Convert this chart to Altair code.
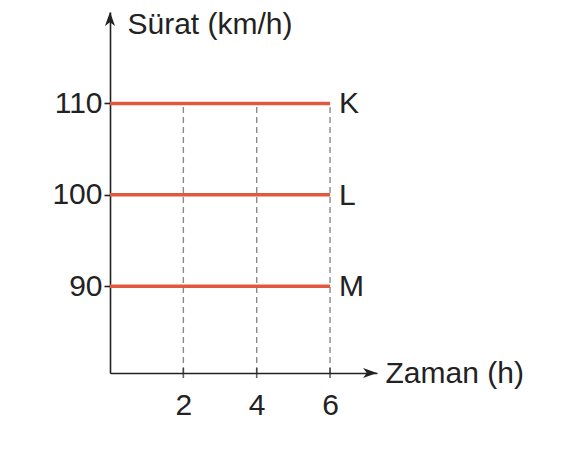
import altair as alt
import pandas as pd

# data
names = ["K", "L", "M"]
speeds = [110, 100, 90]
t_start = 0
t_end = 6
tick_times = [2, 4, 6]
speed_ticks = [90, 100, 110]
x_title = "Zaman (h)"
y_title = "Sürat (km/h)"

Y_MIN, Y_MAX = 80.5, 120
X_MIN, X_MAX = 0, 7.28

W, H = 267, 361
FONT = "Liberation Sans"
FS = 30
RED = "#e2583f"
INK = "#222222"

lines_df = pd.DataFrame(
    [{"name": n, "time": t, "speed": s} for n, s in zip(names, speeds) for t in (t_start, t_end)]
)
labels_df = pd.DataFrame({"name": names, "speed": speeds, "time": [t_end] * len(names)})
grid_df = pd.DataFrame({
    "time": tick_times,
    "bottom": [Y_MIN] * len(tick_times),
    "top": [max(speeds)] * len(tick_times),
})
arrow_df = pd.DataFrame({"time": [X_MAX, X_MIN], "speed": [Y_MIN, Y_MAX], "dir": ["right", "up"]})

xscale = alt.Scale(domain=[X_MIN, X_MAX], nice=False, zero=False)
yscale = alt.Scale(domain=[Y_MIN, Y_MAX], nice=False, zero=False)

xaxis = alt.Axis(
    values=tick_times, grid=False, domainColor=INK, domainWidth=1.6,
    ticks=False, labelFontSize=FS, labelFont=FONT,
    labelColor=INK, labelPadding=17, title=x_title, titleFont=FONT, titleFontSize=FS,
    titleFontWeight="normal", titleColor=INK, titleAngle=0, titleAlign="left",
    titleBaseline="middle", titleX=W + 8, titleY=0,
)
yaxis = alt.Axis(
    values=speed_ticks, grid=False, domainColor=INK, domainWidth=1.6,
    tickColor=INK, tickWidth=1.6, tickSize=6, labelFontSize=FS, labelFont=FONT,
    labelColor=INK, labelPadding=2, title=y_title, titleFont=FONT, titleFontSize=FS,
    titleFontWeight="normal", titleColor=INK, titleAngle=0, titleAlign="left",
    titleBaseline="middle", titleX=17, titleY=12,
)

X = alt.X("time:Q", scale=xscale, axis=xaxis)
Y = alt.Y("speed:Q", scale=yscale, axis=yaxis)

grid = alt.Chart(grid_df).mark_rule(color="#8a8a8a", strokeWidth=1.4, strokeDash=[6, 4]).encode(
    x=X,
    y=alt.Y("bottom:Q", scale=yscale, axis=yaxis),
    y2=alt.Y2("top:Q"),
)

xticks = alt.Chart(grid_df).mark_tick(color=INK, thickness=1.6, size=10, orient="vertical").encode(
    x=X,
    y=alt.Y("bottom:Q", scale=yscale, axis=yaxis),
)

lines = alt.Chart(lines_df).mark_line(color=RED, strokeWidth=3.5).encode(
    x=X, y=Y, detail="name:N"
)

labels = alt.Chart(labels_df).mark_text(
    align="left", baseline="middle", dx=9, dy=1, font=FONT, fontSize=FS, color=INK
).encode(x=X, y=Y, text="name:N")

arrow_right = alt.Chart(arrow_df).transform_filter(alt.datum.dir == "right").mark_point(
    shape="M 0 0 L -2 -0.72 L -1.45 0 L -2 0.72 Z", filled=True, color=INK, opacity=1, size=196
).encode(x=X, y=Y)

arrow_up = alt.Chart(arrow_df).transform_filter(alt.datum.dir == "up").mark_point(
    shape="M 0 0 L -0.72 2 L 0 1.45 L 0.72 2 Z", filled=True, color=INK, opacity=1, size=196
).encode(x=X, y=Y)

chart = alt.layer(grid, xticks, lines, labels, arrow_right, arrow_up).properties(
    width=W, height=H,
    background="white",
    autosize=alt.AutoSizeParams(type="none"),
    padding={"left": 102, "top": 4, "right": 180, "bottom": 66},
).configure_view(stroke=None)

chart.save("out.html", embed_options={"renderer": "svg", "actions": False})
